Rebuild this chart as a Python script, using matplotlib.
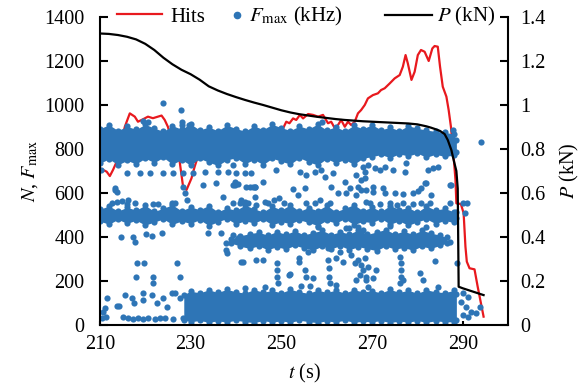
import matplotlib
matplotlib.use('Agg')
import matplotlib.pyplot as plt
from matplotlib.lines import Line2D

plt.rcParams['font.family'] = ['Liberation Serif', 'DejaVu Serif']
plt.rcParams['mathtext.fontset'] = 'stix'
plt.rcParams['font.size'] = 14.5

AZUL = '#2e75b6'
ROJO = '#e8191e'

# Carga aplicada P (kN)
t_carga = [210, 212, 214, 216, 218, 220, 222, 224, 226, 228, 230, 232, 234, 236,
           238, 240, 242, 244, 246, 248, 250, 252, 254, 256, 258, 260, 262, 264,
           266, 268, 270, 272, 274, 276, 278, 280, 282, 283, 284, 285, 286, 286.7,
           287.5, 288.0, 288.6, 288.9, 289.1, 290.0, 294.6]
carga = [1.325, 1.323, 1.318, 1.310, 1.298, 1.278, 1.250, 1.215, 1.185, 1.160,
         1.140, 1.115, 1.085, 1.066, 1.050, 1.036, 1.023, 1.011, 1.000, 0.988,
         0.976, 0.966, 0.958, 0.952, 0.946, 0.941, 0.936, 0.932, 0.929, 0.926,
         0.924, 0.922, 0.920, 0.918, 0.916, 0.912, 0.903, 0.897, 0.890, 0.882,
         0.868, 0.841, 0.795, 0.750, 0.700, 0.620, 0.174, 0.167, 0.136]

# Hits acumulados N
t_hits = [210, 211.5, 212.2, 212.9, 213.7, 214.6, 215.5, 216.6, 217.7, 218.4,
          219.5, 220.6, 221.7, 222.8, 223.6, 224.3, 225.0, 225.8, 226.7, 227.6,
          228.3, 229.1, 230.2, 230.9, 232, 234, 236, 238, 240, 242, 244, 246, 248,
          249.5, 250.4, 251.1, 251.8, 252.6, 253.3, 254.1, 254.8, 255.9, 257.0,
          258.1, 259.2, 260.3, 261.0, 261.8, 262.5, 263.2, 264.0, 264.7, 265.4,
          266.2, 266.9, 267.6, 268.4, 269.1, 270.2, 271.3, 272.0, 272.8, 273.9,
          275.0, 276.1, 276.8, 277.4, 277.9, 278.7, 279.4, 280.1, 280.8, 281.6,
          282.5, 283.3, 283.8, 284.5, 285.0, 285.6, 286.4, 286.9, 287.4, 288.0,
          288.4, 288.6, 289.6, 290.2, 290.6, 290.9, 291.5, 292.6, 293.3, 294.6]
hits = [712, 697, 677, 705, 742, 820, 901, 962, 947, 924,
        935, 947, 940, 947, 952, 932, 901, 841, 790, 742,
        636, 614, 667, 720, 790, 820, 800, 830, 810, 840, 820, 850, 860,
        880, 894, 924, 917, 939, 932, 955, 939, 959, 955,
        947, 955, 917, 924, 894, 909, 932, 901, 924, 909,
        924, 962, 977, 1000, 1030, 1045, 1053, 1068, 1076, 1098,
        1121, 1136, 1174, 1227, 1189, 1114, 1151, 1227, 1250, 1242,
        1200, 1257, 1268, 1265, 1174, 1083, 1038, 977, 901, 765,
        660, 553, 550, 508, 356, 288, 258, 253, 174, 38]

# Zonas densas de F_max (kHz): tiempo, borde inferior y superior
banda_a_t = [210, 212, 214, 216, 218, 220, 222, 224, 226, 228, 230, 232, 234, 236,
             238, 240, 242, 244, 246, 248, 250, 252, 254, 256, 258, 260, 262, 264,
             266, 268, 270, 272, 274, 276, 278, 280, 282, 284, 286, 288, 288.6]
banda_a_sup = [892, 910, 884, 903, 889, 912, 895, 880, 906, 890, 914, 886, 900, 883,
               908, 893, 881, 905, 888, 912, 897, 884, 904, 891, 913, 886, 901, 882,
               907, 892, 910, 887, 899, 883, 906, 894, 886, 880, 876, 868, 840]
banda_a_inf = [735, 755, 728, 748, 732, 758, 738, 762, 730, 752, 726, 757, 740, 725,
               750, 760, 733, 752, 729, 758, 744, 731, 760, 742, 727, 756, 737, 752,
               730, 758, 765, 775, 760, 778, 768, 781, 762, 776, 766, 772, 785]

banda_b_t = banda_a_t
banda_b_sup = [526, 541, 518, 535, 522, 544, 516, 531, 546, 519, 537, 524, 543, 515,
               532, 521, 545, 528, 514, 540, 523, 546, 517, 534, 520, 544, 515, 530,
               547, 519, 536, 516, 543, 525, 533, 513, 541, 522, 530, 515, 515]
banda_b_inf = [472, 458, 480, 462, 476, 454, 468, 482, 457, 473, 461, 479, 452, 469,
               484, 459, 474, 463, 481, 455, 470, 460, 478, 466, 452, 476, 463, 483,
               456, 471, 465, 484, 458, 473, 453, 469, 482, 461, 475, 466, 485]

banda_d_t = [239, 241, 243, 245, 247, 249, 251, 253, 255, 257, 259, 261, 263, 265,
             267, 269, 271, 273, 275, 277, 279, 281, 283, 285, 286.5]
banda_d_sup = [392, 406, 415, 422, 408, 425, 412, 428, 410, 420, 430, 411, 424, 414,
               432, 412, 423, 434, 414, 426, 412, 430, 418, 408, 398]
banda_d_inf = [372, 358, 348, 360, 342, 356, 345, 362, 350, 340, 358, 346, 361, 342,
               356, 347, 338, 359, 345, 352, 340, 358, 348, 362, 372]

banda_c_t = [228.5, 230, 232, 234, 236, 238, 240, 242, 244, 246, 248, 250, 252, 254,
             256, 258, 260, 262, 264, 266, 268, 270, 272, 274, 276, 278, 280, 282,
             284, 286, 288, 288.6]
banda_c_sup = [138, 154, 146, 160, 148, 162, 151, 145, 161, 149, 157, 146, 162, 151,
               144, 159, 148, 158, 145, 161, 150, 156, 146, 162, 148, 158, 144, 160,
               151, 147, 157, 142]
banda_c_inf = [24, 14, 21, 12, 19, 13, 22, 15, 11, 20, 13, 19, 12, 22, 15, 11, 19,
               13, 22, 12, 17, 14, 20, 11, 18, 13, 20, 12, 19, 15, 14, 22]

# Puntos aislados de F_max (t, kHz)
t_sueltos = [223.9, 227.8, 219.5, 220.6, 228.1, 228.1, 229.6, 259.0,
             210.2, 215.9, 218.8, 221.0, 223.9, 226.1, 228.3, 230.5, 233.1, 236.0, 238.2,
             228.3, 213.3, 213.3, 213.7, 228.7, 229.2,
             212.6, 213.7, 214.8, 215.9, 216.2, 217.7, 221.7, 222.8, 225.8, 226.5, 211.8,
             214.6, 217.3, 217.7, 220.1, 221.4, 223.7,
             218.1, 219.7, 227.1, 217.9, 221.7, 221.7, 227.6,
             211.5, 214.2, 215.5, 217.0, 217.5, 219.5, 219.5, 221.4, 222.6, 223.9,
             224.8, 225.8, 226.5, 227.6, 211.1, 210.7, 213.7,
             210.4, 211.3, 215.1, 216.2, 217.3, 218.4, 219.5, 220.6, 222.1, 223.2,
             224.3, 226.1, 228.3,
             232.8, 235.7, 239.4, 243.8, 246.0, 239.7, 240.4, 243.0, 244.2,
             237.2, 239.4, 241.2, 242.7, 244.5, 247.1, 248.5, 250.7, 240.8, 241.9,
             244.1, 246.3, 249.6,
             233.9, 236.8, 239.4, 240.5,
             237.9, 237.9, 238.0, 241.2, 244.5, 246.0, 249.0, 249.0, 249.0, 249.3,
             251.8, 241.6, 241.9, 246.3,
             239.4, 240.1, 241.9, 243.4, 239.7, 242.3, 244.1, 248.9,
             252.6, 253.7, 255.2, 255.5, 257.4, 258.5, 260.7, 262.5, 264.0, 264.3,
             266.9, 266.5, 267.6, 268.7,
             254.1, 255.5, 257.4, 258.8, 259.6, 261.4, 266.5, 267.6, 268.4, 261.0, 265.1,
             252.0, 254.0, 254.0, 255.9, 255.2, 255.5, 257.0, 256.3, 254.4, 260.3,
             260.3, 260.5, 260.5, 260.7, 262.9, 262.1, 263.6, 262.1, 265.4, 266.2,
             266.9, 267.6, 267.3, 266.5, 268.0, 268.7, 269.1,
             266.9, 268.0, 264.3, 258.0, 265.0, 274.0, 282.0,
             268.0, 269.1, 270.6, 271.7, 272.8, 274.6, 277.2, 277.5, 282.3, 284.5,
             283.4, 281.6, 268.4, 270.2, 272.4, 280.8, 287.4, 281.9, 287.1,
             268.7, 270.2, 272.8, 275.0, 276.8, 279.0, 280.1, 283.0,
             269.5, 271.7, 273.9, 275.4, 276.8, 279.0, 280.8, 282.7, 287.1,
             290.0, 290.9, 290.4, 288.7, 287.1, 284.1,
             276.1, 276.4, 276.4, 276.4, 276.1, 276.8, 280.5, 281.2, 283.8, 268.4,
             269.1, 270.2, 268.7, 270.9, 284.5,
             290.0, 291.1, 289.6, 290.7, 291.8, 290.0, 291.1, 293.0, 293.7,
             294.1, 287.8]
f_sueltos = [1008, 977, 929, 921, 924, 909, 909, 924,
             705, 690, 690, 690, 690, 690, 690, 690, 697, 697, 697,
             629, 623, 614, 605, 600, 568,
             555, 559, 564, 550, 568, 555, 550, 550, 555, 555, 477,
             400, 400, 377, 414, 405, 418,
             282, 282, 282, 218, 218, 191, 218,
             123, 86, 136, 123, 100, 145, 114, 136, 100, 123,
             82, 145, 145, 123, 77, 59, 86,
             32, 36, 36, 30, 28, 34, 28, 32, 27, 32,
             30, 28, 32,
             636, 644, 636, 629, 651, 636, 641, 627, 627,
             583, 553, 568, 553, 545, 553, 568, 553, 553, 561,
             583, 561, 576,
             418, 418, 409, 394,
             371, 341, 326, 288, 295, 295, 282, 250, 220, 189,
             227, 288, 167, 171,
             727, 689, 689, 689, 651, 629, 629, 705,
             617, 591, 621, 556, 556, 568, 553, 598, 651, 602,
             629, 591, 614, 561,
             697, 682, 697, 705, 674, 689, 682, 659, 697, 629, 621,
             230, 303, 288, 333, 250, 220, 212, 177, 177, 348,
             295, 258, 220, 189, 333, 303, 288, 182, 318, 280,
             295, 273, 227, 205, 250, 220, 174,
             447, 432, 439, 445, 440, 448, 445,
             720, 727, 712, 705, 720, 705, 697, 735, 705, 720,
             712, 644, 667, 629, 621, 621, 636, 644, 636,
             614, 605, 598, 600, 595, 598, 610, 591,
             553, 550, 553, 545, 553, 550, 556, 556, 556,
             556, 553, 508, 283, 379, 371,
             311, 280, 250, 220, 189, 205, 235, 205, 292, 303,
             265, 212, 205, 250, 174,
             144, 129, 106, 83, 61, 45, 38, 53, 83,
             833, 886]

fig = plt.figure(figsize=(5.84, 3.86), dpi=100)
ax = fig.add_axes([0.171, 0.158, 0.699, 0.798])
ax2 = ax.twinx()

# Hits (debajo de los puntos)
ax.plot(t_hits, hits, color=ROJO, lw=1.6, zorder=1)

# Zonas densas de F_max y sus bordes
kw_punto = dict(s=20, color=AZUL, linewidths=0, zorder=2)
for bt, binf, bsup in [(banda_a_t, banda_a_inf, banda_a_sup),
                       (banda_b_t, banda_b_inf, banda_b_sup),
                       (banda_d_t, banda_d_inf, banda_d_sup),
                       (banda_c_t, banda_c_inf, banda_c_sup)]:
    ax.fill_between(bt, binf, bsup, color=AZUL, lw=0, zorder=2)
    ax.scatter(bt, binf, **kw_punto)
    ax.scatter(bt, bsup, **kw_punto)
ax.scatter(t_sueltos, f_sueltos, **kw_punto)

# Carga P en el eje derecho
ax2.plot(t_carga, carga, color='black', lw=1.6)

ax.set_xlim(210, 300)
ax.set_ylim(0, 1400)
ax2.set_ylim(0, 1.4)
ax.set_xticks([210, 230, 250, 270, 290])
ax.set_yticks(range(0, 1401, 200))
ax2.set_yticks([0, 0.2, 0.4, 0.6, 0.8, 1.0, 1.2, 1.4])
ax2.set_yticklabels(['0', '0.2', '0.4', '0.6', '0.8', '1', '1.2', '1.4'])

for a in (ax, ax2):
    a.spines['top'].set_visible(False)
    for s in a.spines.values():
        s.set_linewidth(1.5)
ax.spines['right'].set_visible(False)
ax2.spines['left'].set_visible(False)
ax2.spines['bottom'].set_visible(False)

ax.tick_params(axis='y', direction='in', length=6, width=1.5, pad=11)
ax.tick_params(axis='x', direction='in', length=3, width=1.5, pad=7)
ax2.tick_params(axis='y', direction='in', length=6, width=1.5, pad=9)

ax.set_xlabel('$t$ (s)', labelpad=6)
ax.set_ylabel('$N$, $F_{\\mathrm{max}}$', labelpad=3)
ax2.set_ylabel('$P$ (kN)', labelpad=9)

# Leyenda en tres partes a lo largo del borde superior
kw_ley = dict(loc='center left', frameon=False, borderpad=0, borderaxespad=0,
              fontsize=15)
ley1 = ax.legend([Line2D([], [], color=ROJO, lw=1.6)], ['Hits'],
                 bbox_to_anchor=(0.042, 1.0), handlelength=2.15, handletextpad=0.4,
                 **kw_ley)
ax.add_artist(ley1)
ley2 = ax.legend([Line2D([], [], color=AZUL, marker='o', ls='none', ms=4.5)],
                 ['$F_{\\mathrm{max}}$ (kHz)'], bbox_to_anchor=(0.315, 1.0),
                 handlelength=0.8, handletextpad=0.2, **kw_ley)
ax.add_artist(ley2)
ax.legend([Line2D([], [], color='black', lw=1.6)], ['$P$ (kN)'],
          bbox_to_anchor=(0.699, 1.0), handlelength=2.25, handletextpad=0.25,
          **kw_ley)

fig.savefig('out.png', dpi=100, facecolor='white')
